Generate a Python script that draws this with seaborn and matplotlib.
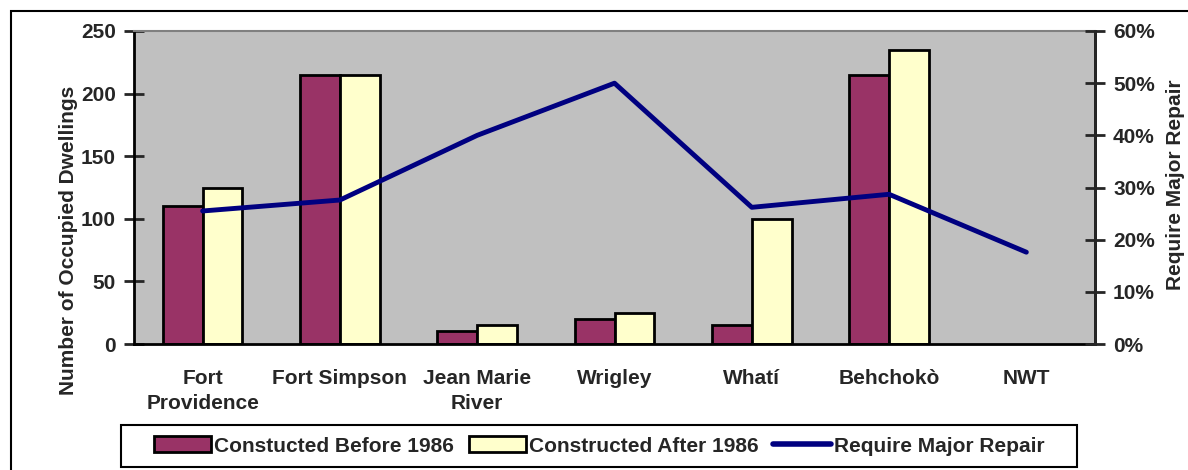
import numpy as np
import pandas as pd
import matplotlib
matplotlib.use("Agg")
import matplotlib.pyplot as plt
import matplotlib.patches as mpatches
from matplotlib.lines import Line2D
import seaborn as sns

# data
communities = ["Fort\nProvidence", "Fort Simpson", "Jean Marie\nRiver", "Wrigley",
               "Whatí", "Behchokò", "NWT"]
before_1986 = [110, 215, 10, 20, 15, 215, np.nan]
after_1986 = [125, 215, 15, 25, 100, 235, np.nan]
major_repair = [0.255, 0.276, 0.40, 0.50, 0.262, 0.287, 0.176]
series_names = ["Constucted Before 1986", "Constructed After 1986"]
line_name = "Require Major Repair"

purple = "#993366"
cream = "#FFFFCC"
navy = "#000080"
FS = 15

df = pd.DataFrame({
    "community": communities * 2,
    "count": before_1986 + after_1986,
    "period": [series_names[0]] * len(communities) + [series_names[1]] * len(communities),
})

sns.set_style("white")
plt.rcParams["font.family"] = ["Liberation Sans", "DejaVu Sans"]
plt.rcParams["font.weight"] = "bold"

fig = plt.figure(figsize=(11.88, 4.70), dpi=100)
ax = fig.add_axes([134 / 1188, 1 - 344 / 470, (1095 - 134) / 1188, (344 - 31) / 470])
ax.set_facecolor("#C0C0C0")

sns.barplot(data=df, x="community", y="count", hue="period", order=communities,
            palette=[purple, cream], saturation=1, width=0.58, edgecolor="black",
            linewidth=2, ax=ax, legend=False)

ax.set_xlim(-0.5, len(communities) - 0.5)
ax.set_ylim(0, 250)
ax.set_yticks(range(0, 251, 50))
ax.set_xlabel("")
ax.set_ylabel("Number of Occupied Dwellings", fontsize=FS, fontweight="bold")
ax.yaxis.set_label_coords(-0.058, 0.33)
ax.set_xticks(range(len(communities)))
ax.set_xticklabels(communities, fontsize=FS, fontweight="bold", linespacing=1.4)
ax.set_xticks(np.arange(-0.5, len(communities)), minor=True)
ax.tick_params(axis="x", which="major", length=0, pad=18)
ax.tick_params(axis="x", which="minor", length=14, width=2, direction="inout")
ax.tick_params(axis="y", length=14, width=2, direction="inout", labelsize=FS, pad=6)
for lbl in ax.get_yticklabels():
    lbl.set_fontweight("bold")

for side in ["left", "bottom", "right"]:
    ax.spines[side].set_color("black")
    ax.spines[side].set_linewidth(2)
ax.spines["top"].set_color("#808080")
ax.spines["top"].set_linewidth(1.5)

ax2 = ax.twinx()
sns.lineplot(x=np.arange(len(communities)), y=major_repair, color=navy, linewidth=3.5,
             ax=ax2, legend=False)
ax2.set_ylim(0, 0.6)
ax2.set_yticks(np.arange(0, 0.61, 0.1))
ax2.set_yticklabels([f"{int(round(v * 100))}%" for v in np.arange(0, 0.61, 0.1)],
                    fontsize=FS, fontweight="bold")
ax2.tick_params(axis="y", length=14, width=2, direction="inout", pad=6)
ax2.set_ylabel(line_name, fontsize=FS, fontweight="bold")
ax2.yaxis.set_label_coords(1.074, 0.51)
ax2.spines["right"].set_linewidth(2)
ax2.spines["top"].set_visible(False)
ax2.spines["left"].set_visible(False)
ax2.spines["bottom"].set_visible(False)
ax2.set_xlim(-0.5, len(communities) - 0.5)

# outer chart border
fig.patches.append(mpatches.Rectangle((11 / 1188, -0.05), 1.1, 1 - 11 / 470 + 0.05,
                                      transform=fig.transFigure, fill=False,
                                      edgecolor="black", linewidth=1.5))
# legend box
fig.patches.append(mpatches.Rectangle((121 / 1188, 1 - 467 / 470), (1077 - 121) / 1188,
                                      42 / 470, transform=fig.transFigure, fill=True,
                                      facecolor="white", edgecolor="black", linewidth=1.5))

handles = [
    mpatches.Patch(facecolor=purple, edgecolor="black", linewidth=2, label=series_names[0]),
    mpatches.Patch(facecolor=cream, edgecolor="black", linewidth=2, label=series_names[1]),
    Line2D([0], [0], color=navy, linewidth=4, label=line_name),
]
leg = fig.legend(handles=handles, loc="center", bbox_to_anchor=(599 / 1188, 1 - 446 / 470),
                 ncol=3, frameon=False,
                 handlelength=2.75, handleheight=0.8, handletextpad=0.15, columnspacing=0.7,
                 borderpad=0.4, borderaxespad=0, prop={"weight": "bold", "size": FS})

fig.savefig("out.png", dpi=100)
